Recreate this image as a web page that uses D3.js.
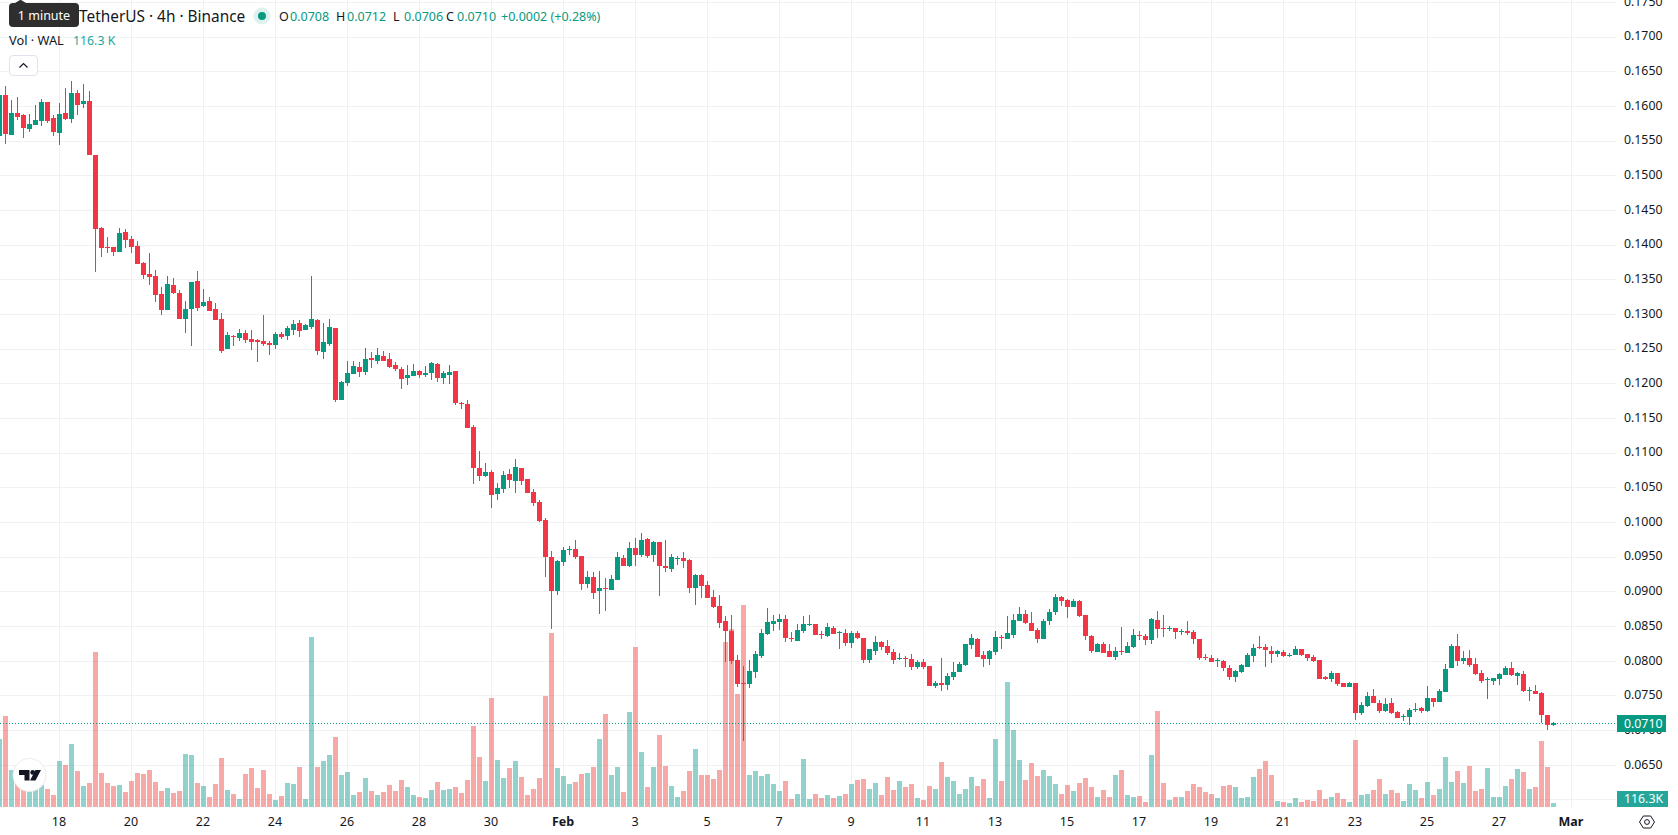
<!DOCTYPE html>
<html>
<head>
<meta charset="utf-8">
<title>WAL / TetherUS 4h</title>
<script src="https://cdn.jsdelivr.net/npm/d3@7/dist/d3.min.js"></script>
<style>
  html, body { margin: 0; padding: 0; background: #fff; overflow: hidden; }
  svg { display: block; font-family: "Noto Sans", sans-serif; }
  .crisp { shape-rendering: crispEdges; }
</style>
</head>
<body>
<svg id="chart" width="1678" height="835"></svg>
<script>
// Four-hour WAL/USDT candles, oldest first, opening at 2026-01-16 08:00 UTC.
const firstCandle = Date.UTC(2026, 0, 16, 8);
const candleStepMs = 4 * 3600 * 1000;

const opens = [
.15577,.16163,.15591,.15904,.15875,.15678,.15736,.15793,.16063,.15832,
.15620,.15904,.15822,.16192,.16034,.16077,.15298,.14245,.13971,.13971,
.13904,.14188,.14087,.13986,.13741,.13582,.13553,.13294,.13068,.13423,
.13308,.12938,.13082,.13481,.13121,.13193,.13077,.12933,.12505,.12688,
.12664,.12731,.12645,.12630,.12616,.12587,.12563,.12712,.12693,.12779,
.12875,.12779,.12823,.12919,.12462,.12577,.12803,.11765,.12010,.12140,
.12241,.12169,.12371,.12328,.12400,.12357,.12270,.12212,.12083,.12111,
.12184,.12126,.12155,.12284,.12083,.12126,.12184,.11722,.11708,.11376,
.10785,.10669,.10727,.10410,.10482,.10698,.10597,.10785,.10626,.10439,
.10294,.10035,.09501,.09011,.09429,.09602,.09617,.09516,.09112,.09213,
.09011,.09054,.09025,.09170,.09487,.09371,.09631,.09530,.09761,.09530,
.09717,.09371,.09328,.09472,.09487,.09458,.09054,.09241,.09097,.08924,
.08794,.08578,.08433,.08015,.07684,.07669,.07842,.08073,.08390,.08534,
.08563,.08606,.08333,.08289,.08433,.08520,.08534,.08390,.08361,.08477,
.08405,.08405,.08260,.08405,.08333,.08015,.08145,.08275,.08217,.08131,
.08030,.08044,.08030,.07914,.07986,.07929,.07640,.07684,.07655,.07770,
.07842,.07943,.08232,.08318,.08087,.08030,.08131,.08347,.08318,.08376,
.08578,.08679,.08549,.08448,.08318,.08578,.08707,.08924,.08881,.08780,
.08866,.08664,.08361,.08131,.08246,.08145,.08059,.08145,.08116,.08203,
.08376,.08361,.08304,.08592,.08477,.08462,.08477,.08419,.08434,.08419,
.08318,.08054,.08044,.08001,.08001,.07900,.07770,.07842,.07914,.08073,
.08203,.08203,.08145,.08102,.08131,.08073,.08087,.08174,.08102,.08059,
.08015,.07770,.07741,.07828,.07684,.07626,.07684,.07251,.07352,.07496,
.07395,.07280,.07395,.07265,.07193,.07193,.07294,.07323,.07280,.07467,
.07410,.07554,.07900,.08217,.08001,.08044,.07957,.07828,.07727,.07712,
.07741,.07799,.07900,.07784,.07813,.07568,.07568,.07539,.07222,.0708];

const highs = [
.16163,.16293,.16091,.16135,.15889,.15889,.16019,.16106,.16063,.15875,
.16048,.16264,.16365,.16236,.16322,.16221,.15298,.14260,.14116,.13971,
.14245,.14231,.14130,.14053,.13755,.13885,.13640,.13395,.13553,.13524,
.13351,.13193,.13467,.13625,.13366,.13250,.13164,.13020,.12746,.12702,
.12789,.12774,.12774,.12645,.12991,.12616,.12746,.12746,.12832,.12919,
.12919,.12861,.13553,.12933,.12875,.12933,.12803,.12039,.12328,.12328,
.12313,.12515,.12458,.12515,.12472,.12443,.12313,.12241,.12270,.12284,
.12198,.12256,.12313,.12299,.12184,.12270,.12184,.11736,.11765,.11405,
.11030,.10857,.10756,.10568,.10741,.10770,.10914,.10785,.10626,.10482,
.10323,.10064,.09588,.09458,.09645,.09660,.09746,.09516,.09299,.09285,
.09299,.09198,.09242,.09573,.09530,.09717,.09775,.09847,.09775,.09732,
.09717,.09746,.09544,.09516,.09573,.09472,.09256,.09255,.09155,.09025,
.08953,.08650,.08664,.08087,.07929,.08015,.08145,.08462,.08765,.08664,
.08679,.08664,.08419,.08534,.08650,.08664,.08534,.08433,.08549,.08506,
.08433,.08462,.08433,.08433,.08333,.08174,.08361,.08289,.08304,.08174,
.08116,.08073,.08102,.08015,.08030,.07929,.07712,.08044,.07828,.07986,
.07986,.08246,.08390,.08333,.08145,.08159,.08433,.08376,.08650,.08679,
.08780,.08736,.08707,.08477,.08606,.08751,.08967,.08938,.08895,.08895,
.08881,.08664,.08376,.08260,.08275,.08246,.08203,.08491,.08275,.08462,
.08434,.08390,.08621,.08722,.08664,.08506,.08477,.08462,.08578,.08448,
.08318,.08102,.08087,.08044,.08015,.07943,.07871,.07958,.08116,.08246,
.08361,.08246,.08217,.08159,.08159,.08116,.08217,.08174,.08102,.08087,
.08015,.07785,.07857,.07828,.07684,.07698,.07684,.07410,.07554,.07597,
.07438,.07467,.07467,.07280,.07237,.07323,.07395,.07338,.07640,.07467,
.07597,.07958,.08246,.08390,.08145,.08159,.08044,.07871,.07770,.07756,
.07828,.07929,.07986,.07842,.07857,.07626,.07655,.07554,.07222,.0712];

const lows = [
.15577,.15462,.15591,.15803,.15548,.15635,.15736,.15721,.15764,.15577,
.15447,.15803,.15764,.15875,.15976,.15303,.13616,.13832,.13890,.13846,
.13904,.13962,.13890,.13731,.13515,.13428,.13183,.12996,.13068,.13298,
.12938,.12736,.12549,.13053,.13111,.13053,.12923,.12448,.12505,.12549,
.12621,.12592,.12491,.12318,.12549,.12419,.12505,.12649,.12635,.12707,
.12678,.12779,.12794,.12419,.12361,.12549,.11730,.11765,.11967,.12140,
.12097,.12126,.12227,.12284,.12328,.12227,.12184,.11924,.11982,.12111,
.12083,.12097,.12054,.12025,.11996,.11996,.11693,.11636,.11362,.10554,
.10597,.10655,.10208,.10323,.10424,.10496,.10424,.10539,.10424,.10237,
.10006,.09213,.08463,.08953,.09371,.09530,.09472,.09025,.09054,.08895,
.08679,.08722,.09025,.09170,.09371,.09357,.09371,.09501,.09487,.09429,
.08939,.09285,.09285,.09386,.09343,.08982,.08809,.08909,.08909,.08765,
.08477,.07986,.07958,.07626,.06847,.07611,.07756,.08044,.08376,.08433,
.08448,.08275,.08275,.08289,.08405,.08506,.08376,.08318,.08347,.08390,
.08174,.08217,.08188,.08318,.07972,.07972,.08087,.08159,.08087,.07958,
.08015,.07914,.07871,.07885,.07885,.07640,.07611,.07568,.07583,.07727,
.07842,.07929,.08174,.08058,.07914,.07943,.08087,.08174,.08318,.08333,
.08578,.08534,.08433,.08260,.08318,.08520,.08664,.08794,.08621,.08780,
.08635,.08304,.08116,.08131,.08116,.08059,.08015,.08087,.08116,.08188,
.08304,.08232,.08246,.08333,.08347,.08434,.08318,.08376,.08376,.08246,
.08015,.08015,.07986,.07914,.07857,.07727,.07698,.07828,.07914,.07986,
.08174,.07914,.07972,.08059,.08059,.08059,.08087,.08073,.08001,.07986,
.07741,.07727,.07698,.07640,.07626,.07626,.07150,.07222,.07338,.07395,
.07251,.07265,.07237,.07179,.07136,.07078,.07265,.07251,.07265,.07338,
.07410,.07554,.07900,.07929,.07957,.07914,.07799,.07683,.07453,.07655,
.07655,.07799,.07784,.07655,.07554,.07424,.07525,.07107,.07006,.0706];

const closes = [
.16163,.15606,.15904,.15846,.15692,.15745,.15803,.16063,.15793,.15635,
.15889,.15817,.16192,.16024,.16077,.15303,.14236,.13962,.13957,.13904,
.14173,.14077,.13976,.13731,.13573,.13544,.13284,.13068,.13438,.13313,
.12938,.13077,.13467,.13097,.13178,.13053,.12923,.12476,.12702,.12674,
.12731,.12635,.12606,.12606,.12577,.12563,.12717,.12678,.12803,.12861,
.12765,.12847,.12933,.12476,.12602,.12818,.11760,.12025,.12155,.12256,
.12169,.12357,.12342,.12414,.12328,.12241,.12212,.12068,.12126,.12184,
.12126,.12155,.12299,.12083,.12155,.12169,.11722,.11712,.11362,.10785,
.10669,.10727,.10395,.10496,.10684,.10612,.10799,.10597,.10424,.10280,
.10020,.09501,.09011,.09444,.09602,.09617,.09501,.09112,.09213,.08982,
.09054,.09040,.09184,.09501,.09371,.09631,.09530,.09746,.09516,.09717,
.09371,.09343,.09501,.09487,.09444,.09054,.09242,.09082,.08909,.08780,
.08549,.08433,.07999,.07669,.07669,.07857,.08102,.08405,.08563,.08578,
.08606,.08333,.08318,.08448,.08534,.08534,.08376,.08376,.08491,.08390,
.08419,.08260,.08405,.08333,.08015,.08174,.08275,.08203,.08116,.08015,
.08044,.08030,.07914,.07986,.07914,.07640,.07684,.07655,.07785,.07842,
.07958,.08246,.08333,.08058,.08030,.08145,.08347,.08333,.08405,.08592,
.08679,.08549,.08433,.08318,.08578,.08707,.08924,.08866,.08780,.08866,
.08650,.08361,.08145,.08246,.08116,.08059,.08145,.08131,.08217,.08376,
.08361,.08304,.08607,.08462,.08462,.08477,.08419,.08434,.08405,.08318,
.08044,.08039,.07986,.08015,.07900,.07770,.07857,.07943,.08087,.08188,
.08188,.08159,.08102,.08145,.08073,.08087,.08174,.08087,.08044,.08001,
.07741,.07741,.07828,.07669,.07626,.07684,.07251,.07366,.07496,.07395,
.07280,.07381,.07251,.07179,.07208,.07294,.07309,.07280,.07467,.07410,
.07568,.07885,.08217,.08001,.08044,.07943,.07813,.07712,.07741,.07756,
.07813,.07900,.07799,.07828,.07568,.07582,.07525,.07222,.07078,.0710];

// Traded volume per candle, in thousands of WAL.
const volumes = [
1977,2646,1076,872,581,552,552,640,523,349,
1337,1221,1832,1047,611,698,4507,989,698,611,
640,436,756,989,959,1076,727,465,552,407,
465,1541,1512,698,611,291,669,1425,494,378,
233,959,1134,552,1076,378,204,320,698,669,
1163,233,4943,1163,1337,1512,2035,930,1018,349,
436,843,465,349,436,640,465,785,581,349,
291,262,494,727,494,523,581,407,785,2355,
1454,756,3169,1367,843,1134,1337,872,349,523,
843,3227,5059,1134,901,669,727,959,989,1163,
1977,2704,930,1163,436,2762,4652,1599,581,1163,
2093,1192,611,291,465,1047,1686,930,930,814,
1076,4798,5176,3286,5873,930,1047,901,959,669,
465,756,233,378,1396,233,378,262,349,262,
320,378,669,785,814,523,698,349,872,494,
756,581,669,262,204,611,523,1308,872,756,
378,523,872,611,814,262,1977,756,3634,2239,
1367,785,1279,901,1076,901,669,378,640,465,
698,843,581,291,494,291,930,1076,349,291,
320,145,1512,2791,698,204,291,291,465,669,
581,436,378,262,611,640,581,262,291,872,
1105,1337,930,174,145,116,262,145,204,174,
494,233,291,407,233,145,1948,349,378,494,
814,378,494,407,174,669,494,262,727,349,
523,1454,727,1047,698,1192,465,523,1134,291,
291,611,814,1105,1018,523,581,1919,1163,116.3];

const priceTicks = [0.06,0.065,0.07,0.075,0.08,0.085,0.09,0.095,0.1,0.105,0.11,0.115,0.12,0.125,0.13,0.135,0.14,0.145,0.15,0.155,0.16,0.165,0.17,0.175];
const dateTicks = ["2026-01-18","2026-01-20","2026-01-22","2026-01-24","2026-01-26","2026-01-28","2026-01-30",
  "2026-02-01","2026-02-03","2026-02-05","2026-02-07","2026-02-09","2026-02-11","2026-02-13","2026-02-15","2026-02-17",
  "2026-02-19","2026-02-21","2026-02-23","2026-02-25","2026-02-27","2026-03-01"];

const GREEN = "#089981", RED = "#f23645", VOL_GREEN = "#26a69a", VOL_RED = "#ef5350", INK = "#131722", GRID = "#f0f1f3";
const plotRight = 1616, plotBottom = 807;

const svg = d3.select("#chart");
const candles = opens.map((o, i) => ({
  i, t: new Date(firstCandle + i * candleStepMs),
  o, h: highs[i], l: lows[i], c: closes[i], v: volumes[i], up: closes[i] >= o
}));

const x = d3.scaleUtc()
  .domain([candles[0].t, candles[candles.length - 1].t])
  .range([-0.5, 1553.5]);
const y = d3.scaleLinear().domain([0.07, 0.165]).range([730.4, 71.7]);
const yVol = d3.scaleLinear().domain([0, 5873]).range([plotBottom, 605]);
const tickDates = dateTicks.map(d => new Date(d + "T00:00:00Z"));

// Grid
const grid = svg.append("g").attr("class", "crisp").attr("stroke", GRID).attr("stroke-width", 1);
grid.selectAll("line.h").data(priceTicks).join("line").attr("class", "h")
  .attr("x1", 0).attr("x2", plotRight)
  .attr("y1", d => Math.floor(y(d)) + 0.5).attr("y2", d => Math.floor(y(d)) + 0.5);
grid.selectAll("line.v").data(tickDates).join("line").attr("class", "v")
  .attr("y1", 0).attr("y2", plotBottom)
  .attr("x1", d => x(d)).attr("x2", d => x(d));

// Volume histogram sits behind the candles
svg.append("g").attr("class", "crisp").attr("fill-opacity", 0.5)
  .selectAll("rect").data(candles).join("rect")
  .attr("x", d => x(d.t) - 2.5).attr("width", 5)
  .attr("y", d => Math.round(yVol(d.v)))
  .attr("height", d => plotBottom - Math.round(yVol(d.v)))
  .attr("fill", d => d.up ? VOL_GREEN : VOL_RED);

// Last-price line
const lastCandle = candles[candles.length - 1];
svg.append("line")
  .attr("x1", 0).attr("x2", plotRight)
  .attr("y1", Math.floor(y(lastCandle.c)) + 0.5).attr("y2", Math.floor(y(lastCandle.c)) + 0.5)
  .attr("stroke", GREEN).attr("stroke-width", 1).attr("stroke-dasharray", "1 2");

// Candles
const candleG = svg.append("g").attr("class", "crisp");
candleG.selectAll("rect.wick").data(candles).join("rect").attr("class", "wick")
  .attr("x", d => x(d.t) - 0.5).attr("width", 1)
  .attr("y", d => Math.round(y(d.h)))
  .attr("height", d => Math.max(1, Math.round(y(d.l)) - Math.round(y(d.h))))
  .attr("fill", d => d.up ? GREEN : RED);
candleG.selectAll("rect.body").data(candles).join("rect").attr("class", "body")
  .attr("x", d => x(d.t) - 2.5).attr("width", 5)
  .attr("y", d => Math.round(y(Math.max(d.o, d.c))))
  .attr("height", d => Math.max(1, Math.round(y(Math.min(d.o, d.c))) - Math.round(y(Math.max(d.o, d.c)))))
  .attr("fill", d => d.up ? GREEN : RED);

// Price axis
const yAxis = d3.axisRight(y).tickValues(priceTicks).tickSize(0).tickPadding(0)
  .tickFormat(d3.format(".4f"));
const yG = svg.append("g").attr("transform", "translate(1624,-1)").call(yAxis);
yG.select(".domain").remove();
yG.selectAll("text").attr("fill", INK).attr("font-size", 12.3).attr("font-family", '"Noto Sans", sans-serif');

// Time axis
const fmtDay = d3.utcFormat("%-d"), fmtMonth = d3.utcFormat("%b");
const isMonthStart = d => d.getUTCDate() === 1;
const xAxis = d3.axisBottom(x).tickValues(tickDates).tickSize(0).tickPadding(0)
  .tickFormat(d => isMonthStart(d) ? fmtMonth(d) : fmtDay(d));
const xG = svg.append("g").attr("transform", "translate(-1,817)").call(xAxis);
xG.select(".domain").remove();
xG.selectAll("text").attr("fill", INK).attr("font-size", 12.5).attr("font-family", '"Noto Sans", sans-serif')
  .attr("font-weight", d => isMonthStart(d) ? 700 : 400);

// Last-price and last-volume tags on the axis
const tag = (top, bottom, width, fill, label) => {
  svg.append("rect").attr("x", 1617).attr("y", top).attr("width", width).attr("height", bottom - top).attr("fill", fill);
  svg.append("text").attr("x", 1624).attr("y", (top + bottom) / 2).attr("dy", "0.35em")
    .attr("fill", "#fff").attr("font-size", 12.3).text(label);
};
const lastVolLabel = d3.format(".1f")(lastCandle.v) + "K";
tag(715, 732, 49, GREEN, d3.format(".4f")(lastCandle.c));
tag(791, 807, 51, VOL_GREEN, lastVolLabel);

// Settings hexagon in the axis corner
const hex = svg.append("g").attr("transform", "translate(1647,822)").attr("fill", "none").attr("stroke", INK).attr("stroke-width", 1);
hex.append("path").attr("d", "M-7.5 0L-3.7 -6H3.7L7.5 0L3.7 6H-3.7Z");
hex.append("circle").attr("r", 2.4);

// Legend: symbol line
const legend = svg.append("g");
const legText = (px, py, str, fill, size) => legend.append("text")
  .attr("x", px).attr("y", py).attr("fill", fill).attr("font-size", size).text(str);
legText(79, 22, "TetherUS · 4h · Binance", INK, 15.4);
legend.append("circle").attr("cx", 262).attr("cy", 16).attr("r", 8.5).attr("fill", GREEN).attr("fill-opacity", 0.13);
legend.append("circle").attr("cx", 262).attr("cy", 16).attr("r", 4).attr("fill", GREEN);
const fmtP = d3.format(".4f");
[["O", 279, lastCandle.o], ["H", 336, lastCandle.h], ["L", 393, lastCandle.l], ["C", 446, lastCandle.c]].forEach(([k, px, v]) => {
  legText(px, 21, k, INK, 12.5);
  legText(px + 11, 21, fmtP(v), GREEN, 12.5);
});
const change = lastCandle.c - lastCandle.o;
legText(501, 21, `+${fmtP(change)} (+${d3.format(".2f")(change / lastCandle.o * 100)}%)`, GREEN, 12.5);

// Legend: volume line
legText(9, 45, "Vol · WAL", INK, 12.8);
legText(73, 45, d3.format(".1f")(lastCandle.v) + " K", VOL_GREEN, 12.3);

// Collapse button
legend.append("rect").attr("x", 9.5).attr("y", 55.5).attr("width", 28).attr("height", 20).attr("rx", 3.5)
  .attr("fill", "#fff").attr("stroke", "#e0e3eb");
legend.append("path").attr("d", "M19.5 67.5L23.5 63.5L27.5 67.5").attr("fill", "none").attr("stroke", INK).attr("stroke-width", 1.2);

// Tooltip
const tip = svg.append("g");
tip.append("path").attr("d", "M15 3L20 0H21L26 3Z").attr("fill", "#2e2e2e");
tip.append("rect").attr("x", 9).attr("y", 3).attr("width", 70).attr("height", 24).attr("rx", 4).attr("fill", "#2e2e2e");
tip.append("text").attr("x", 44).attr("y", 15.5).attr("dy", "0.35em").attr("text-anchor", "middle")
  .attr("fill", "#fff").attr("font-size", 12.5).text("1 minute");

// Corner logo badge
const logo = svg.append("g").attr("transform", "translate(29.5,775)");
logo.append("circle").attr("r", 16.5).attr("fill", "#fff").attr("stroke", "#ebebeb").attr("stroke-width", 1);
logo.append("path").attr("fill", "#131722")
  .attr("d", "M-10.5 -5H0V5.5H-5V0H-10.5Z M11.5 -5L6 5.5H0.5L6 -5Z");
logo.append("circle").attr("cx", 3.2).attr("cy", -2.6).attr("r", 2.4).attr("fill", "#131722");
</script>
</body>
</html>
